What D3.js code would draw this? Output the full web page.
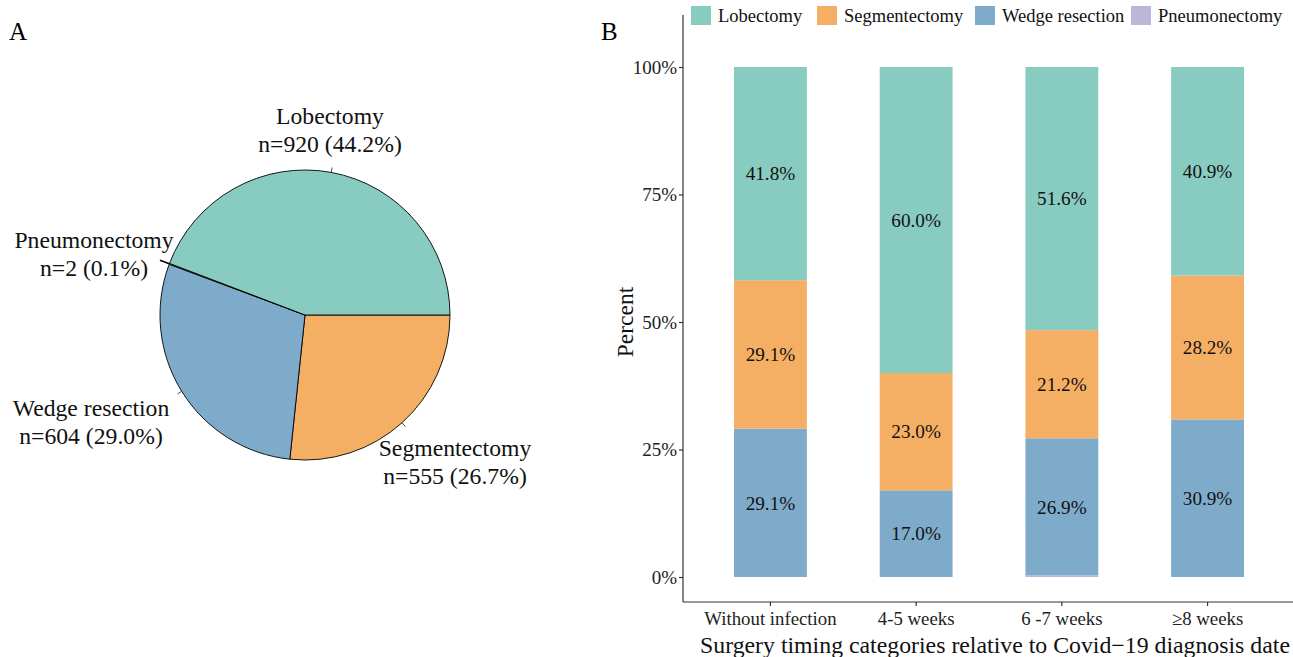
<!DOCTYPE html>
<html>
<head>
<meta charset="utf-8">
<script src="https://cdn.jsdelivr.net/npm/d3@7"></script>
<style>
  html, body { margin: 0; padding: 0; background: #fff; }
  svg { display: block; font-family: "Liberation Serif", "Times New Roman", serif; }
</style>
</head>
<body>
<svg id="chart" width="1293" height="657"></svg>
<script>
// Surgery types and overall counts (panel A)
const procedures = ["Lobectomy", "Segmentectomy", "Wedge resection", "Pneumonectomy"];
const overallCounts = [920, 555, 604, 2];
const overallPctLabels = ["44.2%", "26.7%", "29.0%", "0.1%"];
const colors = ["#88cbc0", "#f4af64", "#7fabca", "#bcb6d8"];

// Timing categories and percentage per procedure (panel B)
const timing = ["Without infection", "4-5 weeks", "6 -7 weeks", "\u22658 weeks"];
const lobectomyPct = [41.8, 60.0, 51.6, 40.9];
const segmentectomyPct = [29.1, 23.0, 21.2, 28.2];
const wedgePct = [29.1, 17.0, 26.9, 30.9];
const pneumonectomyPct = [0.0, 0.0, 0.3, 0.0];
const yTicks = [0, 25, 50, 75, 100];

const svg = d3.select("#chart");

// ---------- Panel A: pie ----------
svg.append("text").attr("x", 9).attr("y", 40).attr("font-size", 25).text("A");

const cx = 305, cy = 315, r = 145;
// slice drawing order clockwise starting at 3 o'clock
const pieOrder = [1, 2, 3, 0];
const pie = d3.pie()
  .sort(null)
  .value(i => overallCounts[i])
  .startAngle(Math.PI / 2)
  .endAngle(Math.PI / 2 + 2 * Math.PI);
const arcs = pie(pieOrder);
const arc = d3.arc().innerRadius(0).outerRadius(r);
const gPie = svg.append("g").attr("transform", `translate(${cx},${cy})`);
gPie.selectAll("path.slice").data(arcs).enter().append("path")
  .attr("class", "slice")
  .attr("d", arc)
  .attr("fill", d => colors[d.data])
  .attr("stroke", "#000")
  .attr("stroke-width", 0.9);

// small ticks at each slice's mid angle
gPie.selectAll("line.tick").data(arcs).enter().append("line")
  .attr("class", "tick")
  .each(function (d) {
    const a = (d.startAngle + d.endAngle) / 2;
    const len = d.data === 3 ? 10 : 5;
    d3.select(this)
      .attr("x1", r * Math.sin(a)).attr("y1", -r * Math.cos(a))
      .attr("x2", (r + len) * Math.sin(a)).attr("y2", -(r + len) * Math.cos(a));
  })
  .attr("stroke", "#000")
  .attr("stroke-width", d => d.data === 3 ? 1.6 : 0.7);

// slice labels
const pieLabelPos = {
  0: [330, 124],
  1: [455, 456],
  2: [91, 416],
  3: [94, 248]
};
procedures.forEach((p, i) => {
  const [lx, ly] = pieLabelPos[i];
  const t = svg.append("text").attr("text-anchor", "middle").attr("font-size", 23.7).attr("fill", "#111");
  t.append("tspan").attr("x", lx).attr("y", ly).text(p);
  t.append("tspan").attr("x", lx).attr("y", ly + 28).text(`n=${overallCounts[i]} (${overallPctLabels[i]})`);
});

// ---------- Panel B: stacked bars ----------
svg.append("text").attr("x", 601).attr("y", 40).attr("font-size", 25).text("B");

const plotLeft = 683, plotRight = 1293, plotTop = 15, plotBottom = 602;
const x = d3.scaleBand().domain(timing).range([plotLeft, plotLeft + 612]).paddingInner(0.5).paddingOuter(0.35);
const y = d3.scaleLinear().domain([-4.9, 110.2]).range([plotBottom, plotTop]);

const series = [lobectomyPct, segmentectomyPct, wedgePct, pneumonectomyPct];
const rows = timing.map((t, j) => {
  const row = { timing: t };
  procedures.forEach((p, i) => row[p] = series[i][j]);
  return row;
});
// stack bottom-up: Pneumonectomy, Wedge, Segmentectomy, Lobectomy
const stack = d3.stack().keys(procedures.slice().reverse());
const stacked = stack(rows);

const gBars = svg.append("g");
stacked.forEach(layer => {
  const ci = procedures.indexOf(layer.key);
  gBars.selectAll(null).data(layer).enter().append("rect")
    .attr("x", d => x(d.data.timing))
    .attr("width", x.bandwidth())
    .attr("y", d => y(d[1]))
    .attr("height", d => Math.max(0, y(d[0]) - y(d[1])))
    .attr("fill", colors[ci]);
  gBars.selectAll(null).data(layer.filter(d => d[1] - d[0] >= 1)).enter().append("text")
    .attr("x", d => x(d.data.timing) + x.bandwidth() / 2)
    .attr("y", d => y((d[0] + d[1]) / 2))
    .attr("dy", "0.35em")
    .attr("text-anchor", "middle")
    .attr("font-size", 19.2)
    .attr("fill", "#111")
    .text(d => (d[1] - d[0]).toFixed(1) + "%");
});

// axes
const yAxis = d3.axisLeft(y).tickValues(yTicks).tickFormat(d => d + "%").tickSize(4).tickPadding(2);
const gy = svg.append("g").attr("transform", `translate(${plotLeft},0)`).call(yAxis);
gy.select(".domain").attr("d", `M0,${plotTop}V${plotBottom}`).attr("stroke", "#333").attr("stroke-width", 1.2);
gy.selectAll(".tick line").attr("stroke", "#333").attr("stroke-width", 1.2);
gy.selectAll(".tick text").attr("font-size", 19).attr("fill", "#222")
  .attr("font-family", "Liberation Serif, serif");

const xAxis = d3.axisBottom(x).tickSize(4).tickPadding(6);
const gx = svg.append("g").attr("transform", `translate(0,${plotBottom})`).call(xAxis);
gx.select(".domain").attr("d", `M${plotLeft},0H${plotRight}`).attr("stroke", "#333").attr("stroke-width", 1.2);
gx.selectAll(".tick line").attr("stroke", "#333").attr("stroke-width", 1.2);
gx.selectAll(".tick text").attr("font-size", 18.8).attr("fill", "#222")
  .attr("font-family", "Liberation Serif, serif");

svg.append("text")
  .attr("transform", "translate(633,322) rotate(-90)")
  .attr("text-anchor", "middle").attr("font-size", 23.5).attr("fill", "#111")
  .text("Percent");

svg.append("text")
  .attr("x", 995).attr("y", 653)
  .attr("text-anchor", "middle").attr("font-size", 23.8).attr("fill", "#111")
  .text("Surgery timing categories relative to Covid\u221219 diagnosis date");

// legend
const legendX = [691, 817, 975, 1131];
procedures.forEach((p, i) => {
  svg.append("rect").attr("x", legendX[i]).attr("y", 6).attr("width", 20).attr("height", 19).attr("fill", colors[i]);
  svg.append("text").attr("x", legendX[i] + 27).attr("y", 22).attr("font-size", 18.5).attr("fill", "#111").text(p);
});
</script>
</body>
</html>
